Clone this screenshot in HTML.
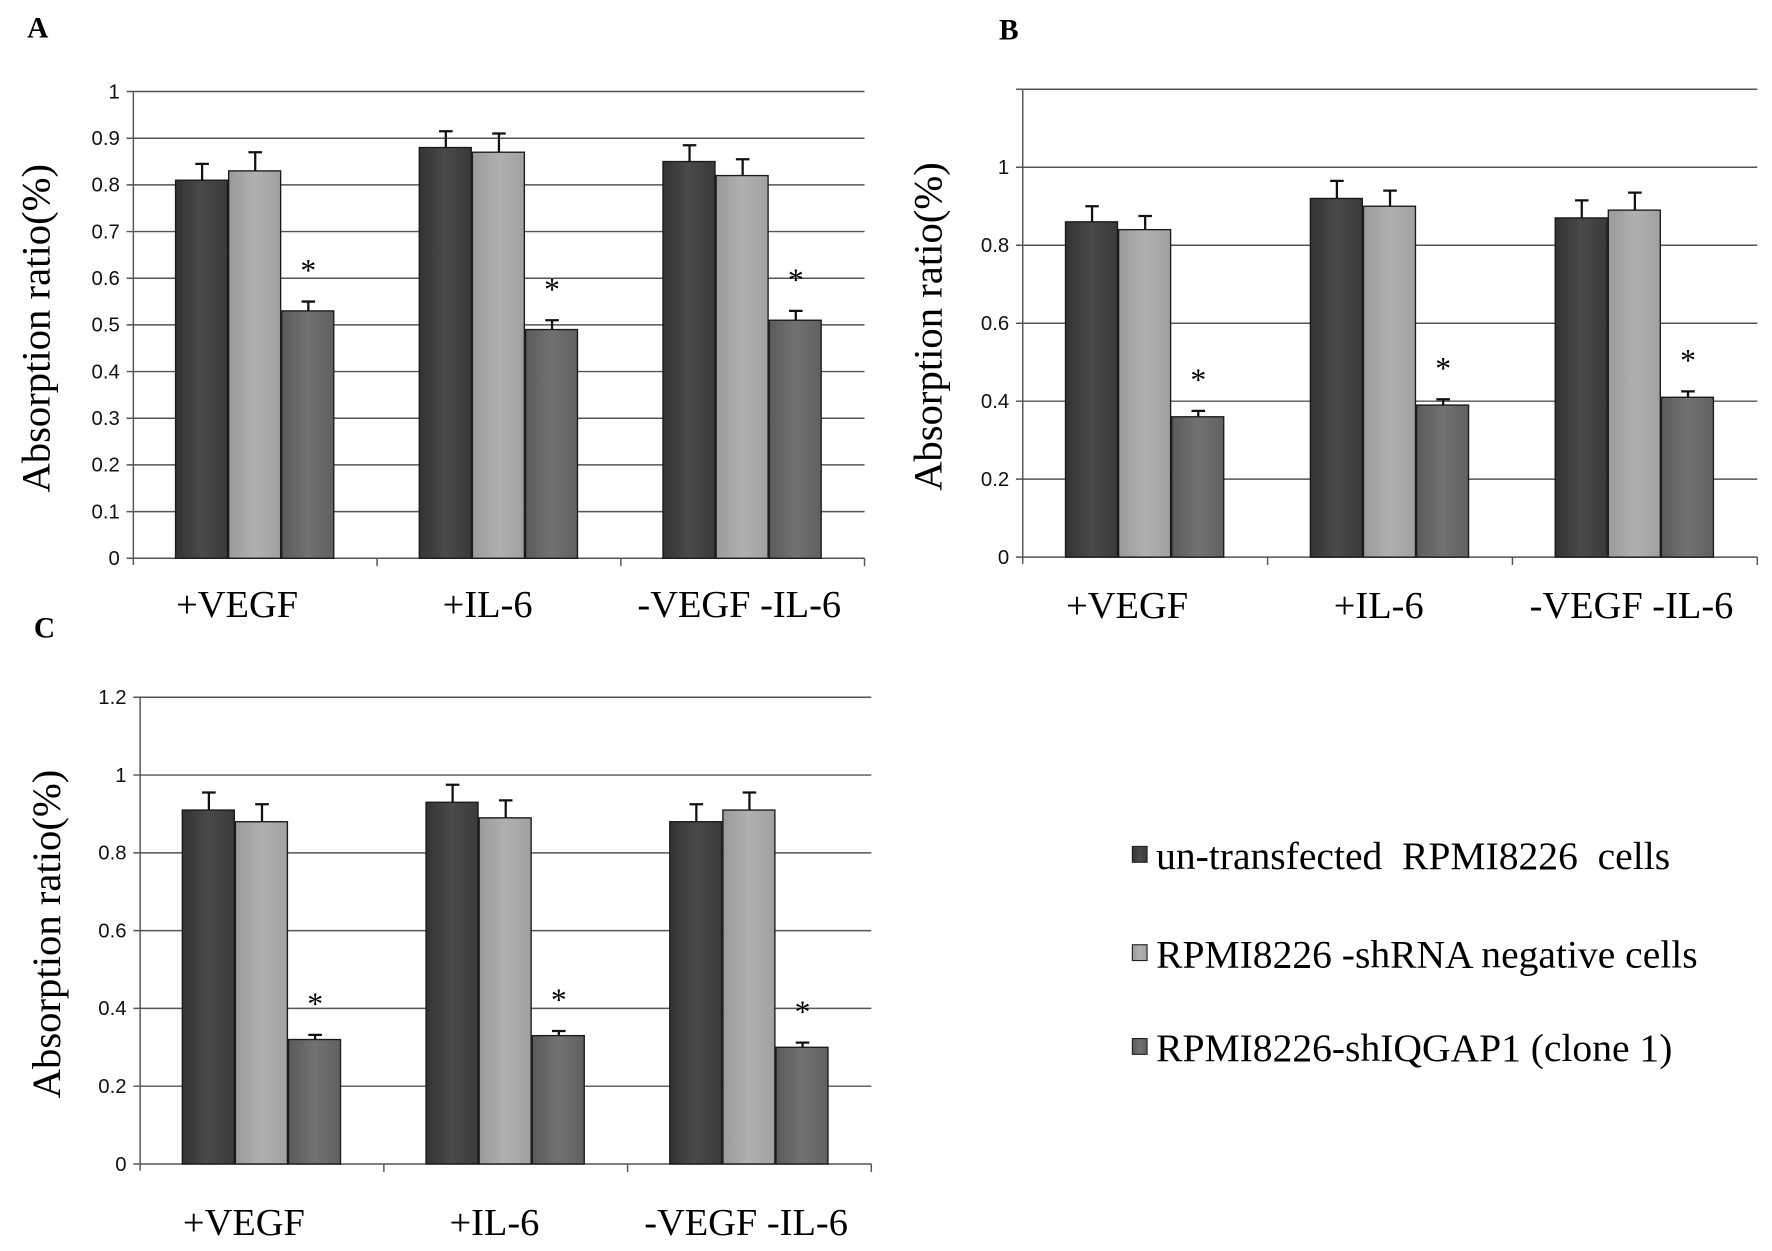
<!DOCTYPE html>
<html><head><meta charset="utf-8"><style>
html,body{margin:0;padding:0;background:#fff}
svg{display:block}
text{font-family:"Liberation Serif",serif}
.tick{font-family:"Liberation Sans",sans-serif;font-size:18px;fill:#111}
</style></head><body>
<svg id="fig" width="1772" height="1251" viewBox="0 0 1568 1107" preserveAspectRatio="none" xmlns="http://www.w3.org/2000/svg">
<defs>
<linearGradient id="g0" x1="0" x2="1"><stop offset="0" stop-color="#333"/><stop offset="0.5" stop-color="#4a4a4a"/><stop offset="1" stop-color="#3a3a3a"/></linearGradient>
<linearGradient id="g1" x1="0" x2="1"><stop offset="0" stop-color="#9a9a9a"/><stop offset="0.5" stop-color="#b0b0b0"/><stop offset="1" stop-color="#a0a0a0"/></linearGradient>
<linearGradient id="g2" x1="0" x2="1"><stop offset="0" stop-color="#5a5a5a"/><stop offset="0.5" stop-color="#727272"/><stop offset="1" stop-color="#606060"/></linearGradient>
</defs>
<g id="root"></g>
</svg>
<script>
const categories = ["+VEGF", "+IL-6", "-VEGF -IL-6"];
const seriesNames = ["un-transfected\u00a0 RPMI8226\u00a0 cells", "RPMI8226 -shRNA negative cells", "RPMI8226-shIQGAP1 (clone 1)"];
const aValues = [[0.81, 0.88, 0.85], [0.83, 0.87, 0.82], [0.53, 0.49, 0.51]];
const aErrors = [[0.035, 0.035, 0.035], [0.04, 0.04, 0.035], [0.02, 0.02, 0.02]];
const aTicks = [0, 0.1, 0.2, 0.3, 0.4, 0.5, 0.6, 0.7, 0.8, 0.9, 1];
const aTickLabels = ["0", "0.1", "0.2", "0.3", "0.4", "0.5", "0.6", "0.7", "0.8", "0.9", "1"];
const bValues = [[0.86, 0.92, 0.87], [0.84, 0.90, 0.89], [0.36, 0.39, 0.41]];
const bErrors = [[0.04, 0.045, 0.045], [0.035, 0.04, 0.045], [0.015, 0.015, 0.015]];
const bTicks = [0, 0.2, 0.4, 0.6, 0.8, 1, 1.2];
const bTickLabels = ["0", "0.2", "0.4", "0.6", "0.8", "1", ""];
const cValues = [[0.91, 0.93, 0.88], [0.88, 0.89, 0.91], [0.32, 0.33, 0.30]];
const cErrors = [[0.045, 0.045, 0.045], [0.045, 0.045, 0.045], [0.012, 0.012, 0.012]];
const cTicks = [0, 0.2, 0.4, 0.6, 0.8, 1, 1.2];
const cTickLabels = ["0", "0.2", "0.4", "0.6", "0.8", "1", "1.2"];

const NS = "http://www.w3.org/2000/svg";
const root = document.getElementById("root");
function mk(tag, attrs, parent) {
  const e = document.createElementNS(NS, tag);
  for (const k in attrs) e.setAttribute(k, attrs[k]);
  (parent || root).appendChild(e);
  return e;
}
const fills = ["url(#g0)", "url(#g1)", "url(#g2)"];
const catOffsets = [-16, -10, -3];

function panel(id, letter, lx, ly, x0, x1, yTop, yBot, ymax, ticks, labels, values, errors, catY, titleX) {
  const g = mk("g", {});
  
  
  const yS = v => yBot - v / ymax * (yBot - yTop);
  const gw = (x1 - x0) / categories.length;
  const bw = 47;
  const pl = mk("text", {x: lx, y: ly, "font-size": 26, "font-weight": "bold"}, g);
  pl.textContent = letter;
  
  
  ticks.forEach((t, i) => {
    const y = yS(t);
    const ln = mk("line", {x1: x0 - 6, x2: x1, y1: y, y2: y, stroke: "#555", "stroke-width": 1.3}, g);
    
    
    const tx = mk("text", {x: x0 - 12, y: y + 6, "text-anchor": "end", class: "tick"}, g);
    tx.textContent = labels[i];
    
    
  });
  const ax = mk("line", {x1: x0, x2: x0, y1: yTop, y2: yBot + 6, stroke: "#555", "stroke-width": 1.3}, g);
  
  
  for (let i = 1; i <= categories.length; i++) {
    const tk = mk("line", {x1: x0 + gw * i, x2: x0 + gw * i, y1: yBot, y2: yBot + 7, stroke: "#555", "stroke-width": 1.3}, g);
    
    
  }
  const yt = mk("text", {transform: `translate(${titleX},${(yTop + yBot) / 2 + 3}) rotate(-90)`, "text-anchor": "middle", "font-size": 36}, g);
  yt.textContent = "Absorption ratio(%)";
  
  
  categories.forEach((c, ci) => {
    const cx = x0 + gw * (ci + 0.5);
    const ct = mk("text", {x: cx + catOffsets[ci], y: catY, "text-anchor": "middle", "font-size": 34}, g);
    ct.textContent = c;
    
    
    values.forEach((ser, si) => {
      const v = ser[ci];
      const bx = cx - 1.5 * bw + si * bw;
      const y = yS(v);
      const r = mk("rect", {x: bx, y: y, width: bw - 1, height: yBot - y, fill: fills[si], stroke: "#1a1a1a", "stroke-width": 1.2}, g);
      
      
      const ey = yS(v + errors[si][ci]);
      const ex = bx + bw / 2;
      const e1 = mk("path", {d: `M${ex},${y} V${ey} M${ex - 6},${ey} H${ex + 6}`, stroke: "#111", "stroke-width": 2, fill: "none"}, g);
      
      
      if (si === 2) {
        const st = mk("text", {x: ex, y: ey - 18, "text-anchor": "middle", "font-size": 28}, g);
        st.textContent = "*";
        
        
      }
    });
  });
}
panel("a", "A", 24, 33, 118, 765, 81, 494, 1, aTicks, aTickLabels, aValues, aErrors, 546, 44);
panel("b", "B", 884, 35, 905, 1555, 79, 493, 1.2, bTicks, bTickLabels, bValues, bErrors, 547, 833);
panel("c", "C", 30, 564, 124, 771, 617, 1030, 1.2, cTicks, cTickLabels, cValues, cErrors, 1093, 53);

const legendY = [758, 845, 928];
seriesNames.forEach((n, i) => {
  const sq = mk("rect", {x: 1002, y: legendY[i] - 9, width: 13, height: 14, fill: fills[i], stroke: "#222", "stroke-width": 1});
  
  
  const t = mk("text", {x: 1023, y: legendY[i] + 11, "font-size": 35});
  t.textContent = n;
  
  
});
</script>
</body></html>
